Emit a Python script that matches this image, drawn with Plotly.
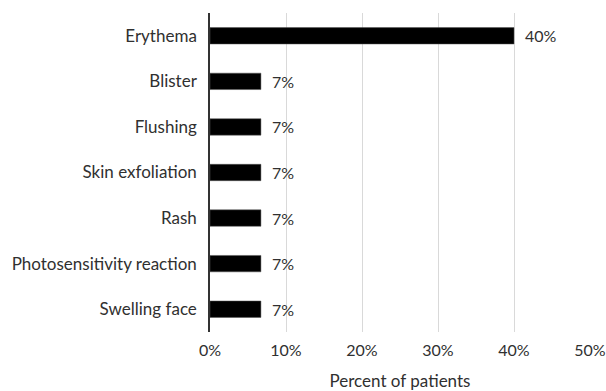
import plotly.graph_objects as go

categories = ["Erythema", "Blister", "Flushing", "Skin exfoliation", "Rash",
              "Photosensitivity reaction", "Swelling face"]
values = [40.0, 6.7, 6.7, 6.7, 6.7, 6.7, 6.7]
labels = ["40%", "7%", "7%", "7%", "7%", "7%", "7%"]
tick_vals = [0, 10, 20, 30, 40, 50]
tick_text = ["0%", "10%", "20%", "30%", "40%", "50%"]

font = "Lato, 'Open Sans', sans-serif"
txt = "#303030"
fs = 17

fig = go.Figure(go.Bar(
    y=categories, x=values, orientation="h",
    marker=dict(color="black", line=dict(color="#555555", width=0.5)),
    hoverinfo="skip",
))

for c, v, t in zip(categories, values, labels):
    fig.add_annotation(x=v, y=c, text=t, showarrow=False, xanchor="left",
                       xshift=9, font=dict(family=font, size=16, color=txt))

fig.update_layout(
    width=606, height=391,
    margin=dict(l=210, r=16, t=13, b=59),
    paper_bgcolor="white", plot_bgcolor="white",
    bargap=0.64, showlegend=False,
    font=dict(family=font, size=fs, color=txt),
    xaxis=dict(range=[0, 50], tickvals=tick_vals, ticktext=tick_text,
               showgrid=True, gridcolor="#d9d9d9", gridwidth=1,
               zeroline=False, showline=False, ticks="", automargin=False,
               ticklabelstandoff=7, ticklabeloverflow="allow",
               tickfont=dict(family=font, size=16, color=txt),
               title=dict(text="Percent of patients", standoff=17,
                          font=dict(family=font, size=fs, color=txt))),
    yaxis=dict(autorange="reversed", showline=True, linecolor="#333333",
               linewidth=1.5, ticks="", showgrid=False, ticklabelstandoff=8,
               automargin=False),
)

fig.write_html("out.html")
